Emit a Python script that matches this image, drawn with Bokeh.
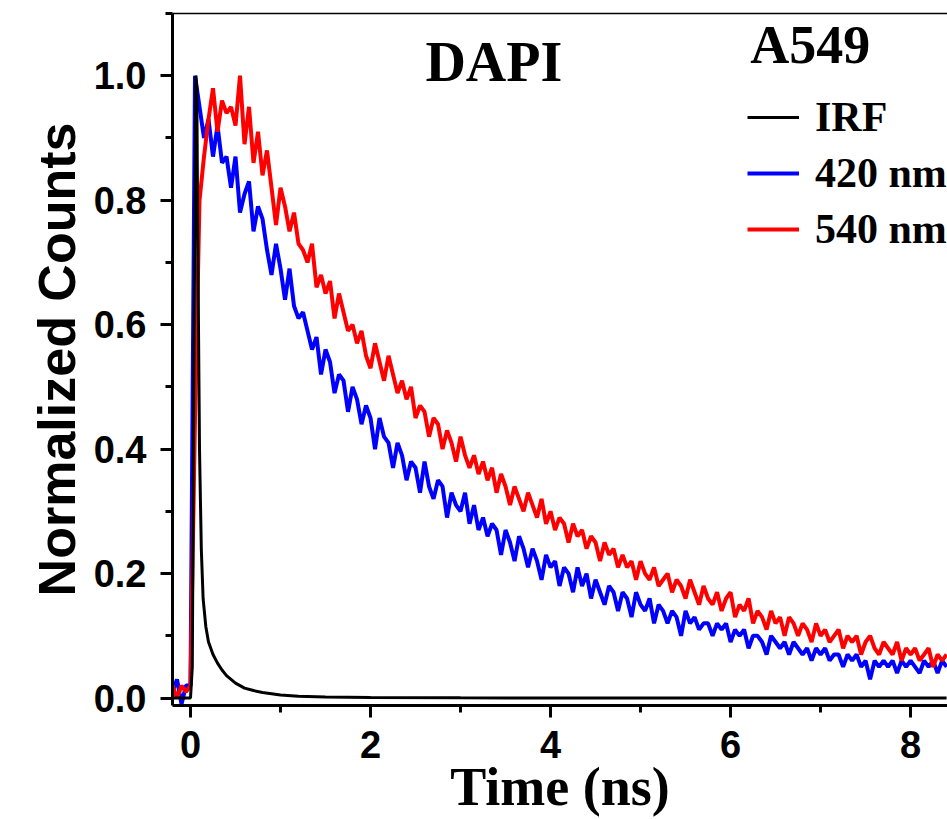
import numpy as np
from bokeh.plotting import figure
from bokeh.models import (LinearAxis, FixedTicker, SingleIntervalTicker, Range1d,
                          Label, Legend, LegendItem, PrintfTickFormatter)
from bokeh.embed import file_html
from bokeh.resources import INLINE

# ---------------- data ----------------
# TCSPC time channels (ns): -0.20 ... 8.40, 0.05 ns per channel
t_start, t_step, n_ch = -0.20, 0.05, 173
time_ns = np.round(t_start + t_step * np.arange(n_ch), 2)

blue_420 = [
    0.01, 0.03, -0.01, 0.02, 0.02, 1.00, 0.95, 0.90, 0.93, 0.87,
    0.92, 0.86, 0.87, 0.82, 0.87, 0.78, 0.81, 0.83, 0.75, 0.79,
    0.77, 0.72, 0.68, 0.73, 0.69, 0.64, 0.69, 0.63, 0.61, 0.62,
    0.59, 0.56, 0.58, 0.52, 0.56, 0.54, 0.49, 0.52, 0.51, 0.46,
    0.50, 0.48, 0.44, 0.47, 0.45, 0.40, 0.45, 0.42, 0.41, 0.37,
    0.41, 0.39, 0.35, 0.38, 0.37, 0.33, 0.38, 0.34, 0.32, 0.35,
    0.34, 0.29, 0.33, 0.31, 0.30, 0.33, 0.28, 0.31, 0.27, 0.29,
    0.26, 0.28, 0.27, 0.23, 0.27, 0.25, 0.22, 0.26, 0.24, 0.21,
    0.24, 0.22, 0.19, 0.23, 0.21, 0.22, 0.18, 0.21, 0.20, 0.17,
    0.21, 0.18, 0.20, 0.16, 0.19, 0.17, 0.15, 0.18, 0.17, 0.14,
    0.17, 0.16, 0.13, 0.17, 0.15, 0.14, 0.16, 0.12, 0.15, 0.14,
    0.12, 0.14, 0.13, 0.10, 0.14, 0.12, 0.13, 0.11, 0.12, 0.12,
    0.10, 0.12, 0.11, 0.12, 0.09, 0.11, 0.10, 0.11, 0.08, 0.10,
    0.10, 0.09, 0.07, 0.10, 0.09, 0.08, 0.09, 0.07, 0.09, 0.08,
    0.07, 0.08, 0.06, 0.08, 0.07, 0.08, 0.06, 0.07, 0.07, 0.05,
    0.07, 0.06, 0.07, 0.05, 0.06, 0.03, 0.06, 0.05, 0.06, 0.05,
    0.06, 0.04, 0.06, 0.05, 0.06, 0.05, 0.04, 0.06, 0.05, 0.06,
    0.04, 0.06, 0.05,
]

red_540 = [
    0.02, 0.00, 0.02, 0.01, 0.02, 0.45, 0.80, 0.87, 0.93, 0.98,
    0.91, 0.96, 0.94, 0.95, 0.92, 1.00, 0.89, 0.95, 0.86, 0.91,
    0.84, 0.88, 0.82, 0.76, 0.82, 0.79, 0.75, 0.78, 0.73, 0.72,
    0.70, 0.73, 0.66, 0.68, 0.65, 0.67, 0.61, 0.65, 0.62, 0.59,
    0.60, 0.57, 0.59, 0.55, 0.53, 0.57, 0.54, 0.51, 0.55, 0.52,
    0.49, 0.51, 0.48, 0.50, 0.45, 0.47, 0.46, 0.42, 0.45, 0.44,
    0.40, 0.43, 0.41, 0.38, 0.42, 0.39, 0.37, 0.39, 0.36, 0.38,
    0.35, 0.37, 0.33, 0.36, 0.34, 0.31, 0.34, 0.32, 0.30, 0.33,
    0.31, 0.29, 0.32, 0.28, 0.30, 0.27, 0.29, 0.28, 0.25, 0.28,
    0.26, 0.27, 0.24, 0.26, 0.25, 0.22, 0.25, 0.23, 0.24, 0.21,
    0.23, 0.21, 0.22, 0.19, 0.22, 0.20, 0.19, 0.21, 0.18, 0.19,
    0.20, 0.17, 0.19, 0.18, 0.16, 0.19, 0.17, 0.15, 0.18, 0.16,
    0.15, 0.17, 0.14, 0.16, 0.17, 0.13, 0.15, 0.14, 0.16, 0.12,
    0.14, 0.13, 0.11, 0.14, 0.12, 0.13, 0.10, 0.13, 0.12, 0.10,
    0.12, 0.11, 0.09, 0.12, 0.10, 0.11, 0.09, 0.10, 0.11, 0.08,
    0.10, 0.09, 0.10, 0.07, 0.09, 0.10, 0.08, 0.07, 0.09, 0.08,
    0.07, 0.09, 0.06, 0.08, 0.07, 0.08, 0.06, 0.07, 0.08, 0.05,
    0.07, 0.06, 0.07,
]

irf_time = [-0.20, -0.10, 0.00, 0.02, 0.04, 0.06, 0.07, 0.08, 0.10, 0.12,
            0.14, 0.17, 0.20, 0.25, 0.30, 0.35, 0.40, 0.50, 0.60, 0.70,
            0.80, 1.00, 1.20, 1.50, 2.00, 3.00, 4.00, 5.00, 6.00, 7.00,
            8.00, 8.40]
irf_vals = [0.0, 0.0, 0.0, 0.05, 0.60, 1.00, 0.98, 0.75, 0.40, 0.24,
            0.16, 0.115, 0.09, 0.07, 0.056, 0.045, 0.036, 0.024, 0.016, 0.012,
            0.009, 0.005, 0.003, 0.0015, 0.0008, 0.0003, 0.0002, 0.0001, 0.0, 0.0,
            0.0, 0.0]

series_names = ["IRF", "420 nm", "540 nm"]
series_colors = ["black", "blue", "red"]

assert len(blue_420) == n_ch and len(red_540) == n_ch

# ---------------- figure ----------------
p = figure(width=947, height=819, output_backend="svg", toolbar_location=None,
           x_range=Range1d(-0.2, 8.41), y_range=Range1d(-0.012, 1.1),
           min_border_left=172, min_border_right=0, min_border_top=13,
           min_border_bottom=114, x_axis_type=None, y_axis_type=None)
p.outline_line_color = None
p.xgrid.visible = False
p.ygrid.visible = False
p.background_fill_color = "white"
p.border_fill_color = "white"

tick_font = "Liberation Sans"
serif = "Liberation Serif"

xaxis = LinearAxis(ticker=SingleIntervalTicker(interval=2, num_minor_ticks=2))
yaxis = LinearAxis(ticker=SingleIntervalTicker(interval=0.2, num_minor_ticks=2),
                   formatter=PrintfTickFormatter(format="%.1f"))
for ax in (xaxis, yaxis):
    ax.axis_line_width = 3
    ax.major_tick_line_width = 3
    ax.minor_tick_line_width = 3
    ax.major_tick_in = 0
    ax.major_tick_out = 12
    ax.minor_tick_in = 0
    ax.minor_tick_out = 7
    ax.major_label_text_font = tick_font
    ax.major_label_text_font_style = "bold"
    ax.major_label_text_font_size = "38px"
    ax.major_label_text_color = "black"
    ax.axis_label_text_color = "black"
    ax.axis_label_text_font_style = "bold"

xaxis.major_label_standoff = 13
xaxis.axis_label = "Time (ns)"
xaxis.axis_label_text_font = serif
xaxis.axis_label_text_font_size = "54px"
xaxis.axis_label_standoff = -4

yaxis.major_label_standoff = 14
yaxis.axis_label = "Normalized Counts"
yaxis.axis_label_text_font = tick_font
yaxis.axis_label_text_font_size = "52px"
yaxis.axis_label_standoff = 5

top = LinearAxis(ticker=FixedTicker(ticks=[]), axis_line_width=1.5,
                 major_label_text_font_size="0px", major_tick_line_color=None,
                 minor_tick_line_color=None)

p.add_layout(xaxis, "below")
p.add_layout(yaxis, "left")
p.add_layout(top, "above")

r_blue = p.line(time_ns, blue_420, line_color=series_colors[1], line_width=4)
r_red = p.line(time_ns, red_540, line_color=series_colors[2], line_width=4)
r_irf = p.line(irf_time, irf_vals, line_color=series_colors[0], line_width=3)

legend = Legend(items=[LegendItem(label=series_names[0], renderers=[r_irf]),
                       LegendItem(label=series_names[1], renderers=[r_blue]),
                       LegendItem(label=series_names[2], renderers=[r_red])],
                location=(575, 452))
legend.label_text_font = serif
legend.label_text_font_style = "bold"
legend.label_text_font_size = "42px"
legend.label_text_color = "black"
legend.glyph_width = 52
legend.glyph_height = 40
legend.label_standoff = 16
legend.label_height = 40
legend.spacing = 8
legend.padding = 0
legend.margin = 0
legend.border_line_color = None
legend.background_fill_alpha = 0
p.add_layout(legend)

p.add_layout(Label(x=2.61, y=1.022, text="DAPI", text_font=serif,
                   text_font_style="bold", text_font_size="56px",
                   text_baseline="alphabetic", text_color="black"))
p.add_layout(Label(x=6.22, y=1.05, text="A549", text_font=serif,
                   text_font_style="bold", text_font_size="54px",
                   text_baseline="alphabetic", text_color="black"))

open("out.html", "w").write(file_html(p, INLINE))
